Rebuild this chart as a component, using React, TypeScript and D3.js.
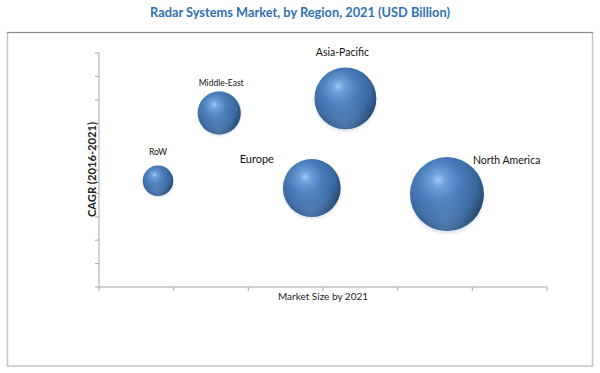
import React from "react";
import * as d3 from "d3";

const regions = ["RoW", "Middle-East", "Europe", "Asia-Pacific", "North America"];
const marketSize = [0.79, 1.61, 2.85, 3.3, 4.66];
const cagr = [4.54, 7.44, 4.23, 8.06, 3.97];
const bubbleSize = [1.7, 3.4, 6.1, 7.0, 10.0];
const xTicks = [0, 1, 2, 3, 4, 5, 6];
const yTicks = [0, 1, 2, 3, 4, 5, 6, 7, 8, 9, 10];

const W = 600;
const H = 373;

// label placement relative to bubble: [dx, dy, anchor, fontSize]
const labelPos: Record<string, [number, number, string, number]> = {
  "RoW": [0, -26, "middle", 8.5],
  "Middle-East": [2, -27, "middle", 8.5],
  "Europe": [-55, -25, "middle", 11],
  "Asia-Pacific": [-3, -42, "middle", 10.5],
  "North America": [26, -30, "start", 10.5],
};

export default function App() {
  const x = d3.scaleLinear().domain([0, 6]).range([99, 547]);
  const y = d3.scaleLinear().domain([0, 10]).range([287, 53]);
  const r = d3.scaleSqrt().domain([0, 10]).range([0, 37]);
  const font = "Lato, 'Open Sans', sans-serif";

  const order = d3.range(regions.length);

  return (
    <svg
      width={W}
      height={H}
      style={{ position: "absolute", left: 0, top: 0, background: "#fff" }}
      fontFamily={font}
    >
      <defs>
        <radialGradient id="sphere" cx="0.42" cy="0.38" r="0.62" fx="0.38" fy="0.3">
          <stop offset="0" stopColor="#9fcaf3" />
          <stop offset="0.15" stopColor="#6fa2da" />
          <stop offset="0.45" stopColor="#4a7eba" />
          <stop offset="0.78" stopColor="#3a68a0" />
          <stop offset="1" stopColor="#254872" />
        </radialGradient>
        <radialGradient id="rim" cx="0.5" cy="0.95" r="0.5">
          <stop offset="0" stopColor="#6f9ccf" stopOpacity="0.5" />
          <stop offset="1" stopColor="#6f9ccf" stopOpacity="0" />
        </radialGradient>
        <filter id="soft" x="-30%" y="-30%" width="160%" height="160%">
          <feGaussianBlur stdDeviation="1.8" />
        </filter>
      </defs>

      {/* title */}
      <text
        x={300}
        y={17}
        textAnchor="middle"
        fontSize={12.8}
        fontWeight="bold"
        fill="#2f72b0"
      >
        Radar Systems Market, by Region, 2021 (USD Billion)
      </text>

      {/* border */}
      <rect x={7.5} y={32.5} width={585} height={333.5} fill="none" stroke="#c4c4c4" strokeWidth={1.5} />
      <line x1={7} x2={593} y1={32.5} y2={32.5} stroke="#8a8a8a" strokeWidth={1} />

      {/* y axis */}
      <line x1={x(0)} x2={x(0)} y1={y(10)} y2={y(0)} stroke="#a6a6a6" strokeWidth={1} />
      {yTicks.map((t) => (
        <line key={"yt" + t} x1={x(0) - 4} x2={x(0)} y1={y(t)} y2={y(t)} stroke="#a6a6a6" />
      ))}

      {/* x axis */}
      <line x1={x(0)} x2={x(6)} y1={y(0)} y2={y(0)} stroke="#a6a6a6" strokeWidth={1.2} />
      {xTicks.map((t) => (
        <line key={"xt" + t} x1={x(t)} x2={x(t)} y1={y(0)} y2={y(0) + 4} stroke="#a6a6a6" />
      ))}

      {/* axis titles */}
      <text
        transform={`translate(95.5,${169.5}) rotate(-90)`}
        textAnchor="middle"
        fontSize={11.2}
        fontWeight="bold"
        fill="#222"
      >
        CAGR (2016-2021)
      </text>
      <text x={323} y={300} textAnchor="middle" fontSize={10} fill="#222">
        Market Size by 2021
      </text>

      {/* bubbles */}
      {order.map((i) => {
        const cx = x(marketSize[i]);
        const cy = y(cagr[i]);
        const rr = r(bubbleSize[i]);
        return (
          <g key={regions[i]}>
            <circle
              cx={cx}
              cy={cy + rr * 0.07}
              r={rr}
              fill="#b0c2d6"
              opacity={0.45}
              filter="url(#soft)"
            />
            <circle cx={cx} cy={cy} r={rr} fill="url(#sphere)" />
            <circle cx={cx} cy={cy} r={rr} fill="url(#rim)" />
          </g>
        );
      })}

      {/* labels */}
      {order.map((i) => {
        const cx = x(marketSize[i]);
        const cy = y(cagr[i]);
        const [dx, dy, anchor, fs] = labelPos[regions[i]];
        return (
          <text
            key={"l" + regions[i]}
            x={cx + dx}
            y={cy + dy}
            textAnchor={anchor as any}
            fontSize={fs}
            fill="#111"
          >
            {regions[i]}
          </text>
        );
      })}
    </svg>
  );
}
